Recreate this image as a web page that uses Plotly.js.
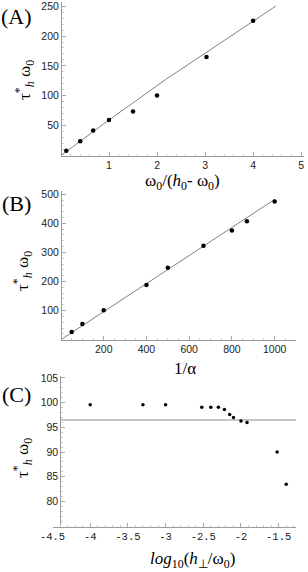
<!DOCTYPE html>
<html>
<head>
<meta charset="utf-8">
<script src="https://cdn.plot.ly/plotly-3.0.1.min.js"></script>
<style>html,body{margin:0;padding:0;background:#fff;}#chart{width:308px;height:572px;}</style>
</head>
<body>
<div id="chart"></div>
<script>
// Panel A data
const aX = [0.11, 0.40, 0.67, 1.0, 1.5, 2.0, 3.03, 4.0];
const aY = [7.8, 23.8, 41.7, 59.5, 73.8, 100.5, 165, 225.5];
const aLineX = [0, 1.0, 2.17, 4.47];
const aLineY = [0, 59.5, 126.7, 250];
const aXTicks = [1, 2, 3, 4, 5];
const aYTicks = [50, 100, 150, 200, 250];

// Panel B data
const bX = [50, 100, 200, 400, 500, 667, 800, 870, 1000];
const bY = [26.5, 54, 101, 187.6, 247, 323, 375, 407, 475];
const bLineX = [0, 1000];
const bLineY = [0, 482];
const bXTicks = [200, 400, 600, 800, 1000];
const bYTicks = [100, 200, 300, 400, 500];

// Panel C data
const cX = [-4.0, -3.30, -3.0, -2.52, -2.40, -2.30, -2.22, -2.15, -2.10, -2.0, -1.92, -1.52, -1.40];
const cY = [99.6, 99.6, 99.6, 99.1, 99.1, 99.1, 98.6, 97.6, 97.0, 96.3, 96.0, 90.0, 83.5];
const cLineX = [-4.4, -1.27];
const cLineY = [96.5, 96.5];
const cXTicks = [-4.5, -4, -3.5, -3, -2.5, -2, -1.5];
const cXTickText = ["-4.5", "-4", "-3.5", "-3", "-2.5", "-2", "-1.5"];
const cYTicks = [80, 85, 90, 95, 100, 105];

const W = 308, H = 572;
const px = x => x / W;
const py = y => 1 - y / H;

const markerStyle = {color: '#000', size: 4.5};
const traces = [
  {x: aLineX, y: aLineY, mode: 'lines', line: {color: '#808080', width: 1}, xaxis: 'x', yaxis: 'y', hoverinfo: 'skip'},
  {x: aX, y: aY, mode: 'markers', marker: markerStyle, xaxis: 'x', yaxis: 'y'},
  {x: bLineX, y: bLineY, mode: 'lines', line: {color: '#808080', width: 1}, xaxis: 'x2', yaxis: 'y2', hoverinfo: 'skip'},
  {x: bX, y: bY, mode: 'markers', marker: markerStyle, xaxis: 'x2', yaxis: 'y2'},
  {x: cLineX, y: cLineY, mode: 'lines', line: {color: '#c4c4c4', width: 2}, xaxis: 'x3', yaxis: 'y3', hoverinfo: 'skip'},
  {x: cX, y: cY, mode: 'markers', marker: {color: '#000', size: 3.5}, xaxis: 'x3', yaxis: 'y3'}
];

const sansTick = {family: 'Liberation Sans, Arial, sans-serif', size: 10.5, color: '#222'};
const monoTick = {family: 'Liberation Mono, Courier New, monospace', size: 10.5, color: '#222'};
function ax(extra) {
  return Object.assign({
    showgrid: false, zeroline: false, showline: true, linecolor: '#9a9a9a', linewidth: 1,
    ticks: 'inside', ticklen: 4, tickcolor: '#aaa', tickwidth: 1,
    tickfont: sansTick, fixedrange: true, ticklabeloverflow: 'allow'
  }, extra);
}

const layout = {
  width: W, height: H,
  margin: {l: 0, r: 0, t: 0, b: 0},
  paper_bgcolor: '#fff', plot_bgcolor: 'rgba(0,0,0,0)',
  showlegend: false,
  xaxis: ax({domain: [px(61), px(304)], range: [0, 5.06], anchor: 'y', tickvals: aXTicks,
    minor: {dtick: 0.2, ticks: 'inside', ticklen: 2, tickcolor: '#ccc'}}),
  yaxis: ax({domain: [py(155.5), py(2)], range: [0, 257], anchor: 'free', position: px(61), tickvals: aYTicks,
    minor: {dtick: 10, ticks: 'inside', ticklen: 2, tickcolor: '#ccc'}}),
  xaxis2: ax({domain: [px(61), px(296)], range: [0, 1100], anchor: 'y2', tickvals: bXTicks,
    minor: {dtick: 50, ticks: 'inside', ticklen: 2, tickcolor: '#ccc'}}),
  yaxis2: ax({domain: [py(339.7), py(191)], range: [0, 511], anchor: 'free', position: px(61), tickvals: bYTicks,
    minor: {dtick: 20, ticks: 'inside', ticklen: 2, tickcolor: '#ccc'}}),
  xaxis3: ax({domain: [px(52.5), px(296)], range: [-4.5, -1.27], anchor: 'y3', tickvals: cXTicks, ticktext: cXTickText,
    tickfont: monoTick, minor: {dtick: 0.1, ticks: 'inside', ticklen: 2, tickcolor: '#ccc'}}),
  yaxis3: ax({domain: [py(526.7), py(376)], range: [74.9, 105.4], anchor: 'free', position: px(60.3), tickvals: cYTicks,
    minor: {dtick: 1, ticks: 'inside', ticklen: 2, tickcolor: '#ccc'}}),
  annotations: []
};

const serif = 'Liberation Serif, Times New Roman, serif';
function ann(text, x, y, size, angle, extra) {
  return Object.assign({text: text, xref: 'paper', yref: 'paper', x: px(x), y: py(y),
    xanchor: 'center', yanchor: 'middle', showarrow: false, textangle: angle || 0,
    font: {family: serif, size: size, color: '#000'}}, extra || {});
}
const tauLabel = 'τ<sup>*</sup><sub><i>h</i></sub> ω<sub>0</sub>';
layout.annotations.push(
  ann('(A)', 16, 16, 22),
  ann('(B)', 16, 203, 22),
  ann('(C)', 16, 394, 22),
  ann(tauLabel, 24, 80, 17, -90),
  ann('ω<sub>0</sub>/(<i>h</i><sub>0</sub>- ω<sub>0</sub>)', 182, 182, 17),
  ann(tauLabel, 22, 271, 17, -90),
  ann('1/α', 185, 368, 17),
  ann(tauLabel, 22, 458, 17, -90),
  ann('<i>log</i><sub>10</sub>(<i>h</i><sub>⊥</sub>/ω<sub>0</sub>)', 192, 560, 17)
);

Plotly.newPlot('chart', traces, layout, {displayModeBar: false, staticPlot: true});
</script>
</body>
</html>
